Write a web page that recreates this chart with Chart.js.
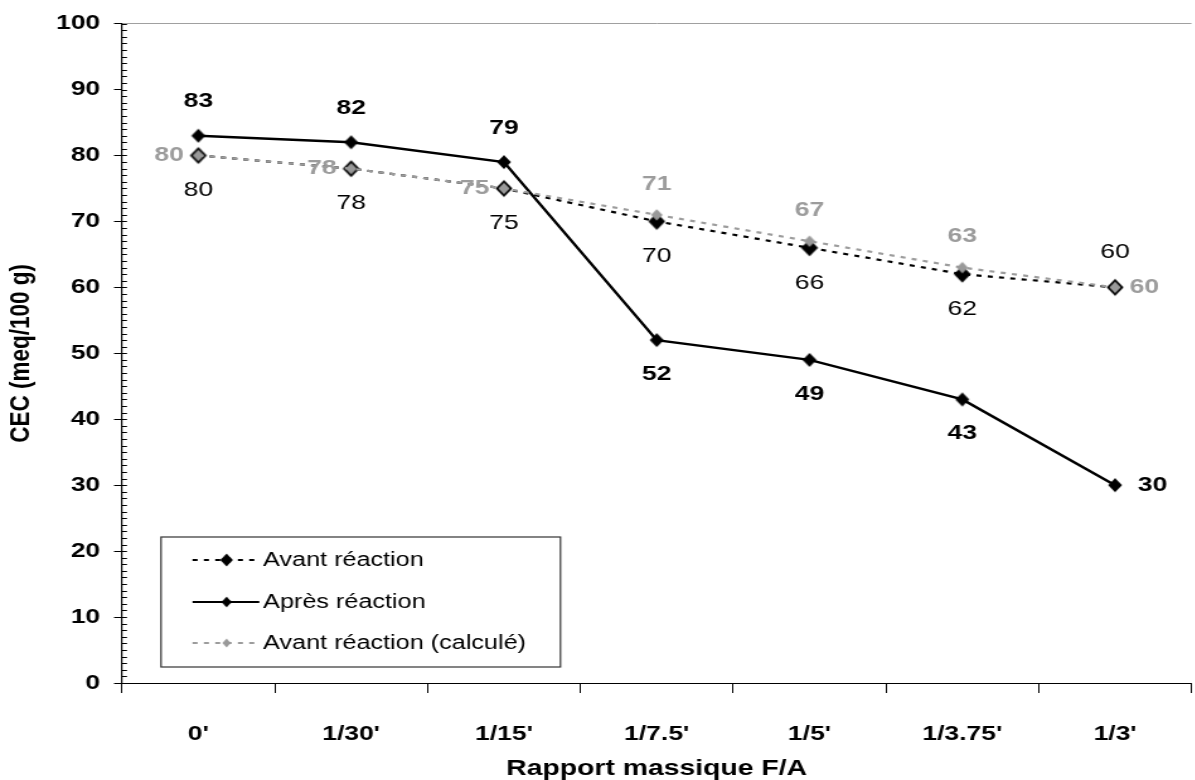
<!DOCTYPE html>
<html>
<head>
<meta charset="utf-8">
<script src="https://cdn.jsdelivr.net/npm/chart.js@4.4.0/dist/chart.umd.min.js"></script>
<style>
  html, body { margin: 0; padding: 0; background: #fff; overflow: hidden; }
  /* the reference is a horizontally stretched picture, so the chart is drawn narrow and stretched */
  #wrap { width: 952px; height: 780px; transform: scaleX(1.26); transform-origin: 0 0; }
</style>
</head>
<body>
<div id="wrap"><canvas id="myChart"></canvas></div>
<script>
const categories = ["0'", "1/30'", "1/15'", "1/7.5'", "1/5'", "1/3.75'", "1/3'"];
const avantReaction = [80, 78, 75, 70, 66, 62, 60];
const apresReaction = [83, 82, 79, 52, 49, 43, 30];
const avantCalcule = [80, 78, 75, 71, 67, 63, 60];
const seriesNames = ["Avant réaction", "Après réaction", "Avant réaction (calculé)"];

const SX = 1.26;
const FONT = "'Liberation Sans', Arial, Helvetica, sans-serif";
const GREY = "#9c9c9c";

// diamond marker, pre-squeezed so it looks square after the stretch
function makeDiamond(half, fill) {
  var hw = half / SX, hh = half;
  var c = document.createElement("canvas");
  c.width = 2 * Math.ceil(hw) + 2;
  c.height = 2 * Math.ceil(hh) + 2;
  var g = c.getContext("2d");
  var cx = c.width / 2, cy = c.height / 2;
  g.beginPath();
  g.moveTo(cx, cy - hh);
  g.lineTo(cx + hw, cy);
  g.lineTo(cx, cy + hh);
  g.lineTo(cx - hw, cy);
  g.closePath();
  g.fillStyle = fill;
  g.fill();
  return c;
}

const pointLabels = {
  id: "pointLabels",
  afterDatasetsDraw(chart) {
    const ctx = chart.ctx;
    chart.data.datasets.forEach(function (ds, i) {
      const meta = chart.getDatasetMeta(i);
      ctx.save();
      ctx.font = ds.labelFont;
      ctx.fillStyle = ds.labelColor;
      ctx.textBaseline = "middle";
      meta.data.forEach(function (pt, j) {
        const pos = ds.labelPos[j];
        let x = pt.x, y = pt.y;
        ctx.textAlign = "center";
        if (pos === "top") y -= ds.labelGapY;
        else if (pos === "bottom") y += ds.labelGapY;
        else if (pos === "left") { x -= ds.labelGapX; ctx.textAlign = "right"; }
        else { x += ds.labelGapX; ctx.textAlign = "left"; }
        ctx.fillText(String(ds.data[j]), x, y);
      });
      ctx.restore();
    });
  }
};

const minorTicks = {
  id: "minorTicks",
  afterDraw(chart) {
    const ctx = chart.ctx;
    const y = chart.scales.y;
    const left = chart.chartArea.left;
    ctx.save();
    ctx.strokeStyle = "#000";
    ctx.lineWidth = 1;
    ctx.beginPath();
    for (let v = y.min; v <= y.max; v++) {
      const py = Math.round(y.getPixelForValue(v)) + 0.5;
      ctx.moveTo(left, py);
      ctx.lineTo(left + 4, py);
    }
    ctx.stroke();
    ctx.restore();
  }
};

const legendBox = {
  id: "legendBox",
  afterDraw(chart) {
    const ctx = chart.ctx;
    const a = chart.chartArea;
    const bx = a.left + 31, by = 537, bw = 317, bh = 130;
    ctx.save();
    ctx.fillStyle = "#fff";
    ctx.fillRect(bx, by, bw, bh);
    ctx.strokeStyle = "#333";
    ctx.lineWidth = 1.2;
    ctx.strokeRect(bx, by, bw, bh);
    const rows = [560, 602, 643];
    chart.data.datasets.forEach(function (ds, i) {
      const yy = rows[i];
      ctx.beginPath();
      ctx.setLineDash(ds.borderDash || []);
      ctx.strokeStyle = ds.borderColor;
      ctx.lineWidth = 2;
      ctx.moveTo(bx + 25, yy);
      ctx.lineTo(bx + 78, yy);
      ctx.stroke();
      ctx.setLineDash([]);
      const img = ds.pointStyle, s = 0.75;
      ctx.drawImage(img, bx + 52 - img.width * s / 2, yy - img.height * s / 2, img.width * s, img.height * s);
      ctx.fillStyle = "#000";
      ctx.font = "20px " + FONT;
      ctx.textAlign = "left";
      ctx.textBaseline = "middle";
      ctx.fillText(ds.label, bx + 81, yy);
    });
    ctx.restore();
  }
};

function createChart() {
  var ctx = document.getElementById("myChart").getContext("2d");
  Chart.defaults.font.family = FONT;
  Chart.defaults.color = "#000";
  new Chart(ctx, {
    type: "line",
    data: {
      labels: categories,
      datasets: [
        {
          label: seriesNames[0],
          data: avantReaction,
          borderColor: "#000",
          borderWidth: 2.2,
          borderDash: [4, 5],
          pointStyle: makeDiamond(8.5, "#000"),
          order: 2,
          labelPos: ["bottom", "bottom", "bottom", "bottom", "bottom", "bottom", "top"],
          labelFont: "21px " + FONT,
          labelColor: "#000",
          labelGapY: 35,
          labelGapX: 12
        },
        {
          label: seriesNames[1],
          data: apresReaction,
          borderColor: "#000",
          borderWidth: 2.4,
          pointStyle: makeDiamond(7, "#000"),
          order: 1,
          labelPos: ["top", "top", "top", "bottom", "bottom", "bottom", "right"],
          labelFont: "bold 21px " + FONT,
          labelColor: "#000",
          labelGapY: 34,
          labelGapX: 18
        },
        {
          label: seriesNames[2],
          data: avantCalcule,
          borderColor: GREY,
          borderWidth: 2.2,
          borderDash: [4, 5],
          pointStyle: makeDiamond(5.7, "#999"),
          order: 0,
          labelPos: ["left", "left", "left", "top", "top", "top", "right"],
          labelFont: "bold 21px " + FONT,
          labelColor: GREY,
          labelGapY: 31,
          labelGapX: 11.5
        }
      ]
    },
    options: {
      responsive: true,
      maintainAspectRatio: false,
      animation: false,
      layout: { padding: { top: 22, right: 0, bottom: 0, left: 0 } },
      plugins: { legend: { display: false }, tooltip: { enabled: false } },
      elements: { line: { tension: 0, fill: false } },
      scales: {
        x: {
          offset: true,
          grid: { offset: true, drawOnChartArea: false, tickLength: 10, tickColor: "#000", tickWidth: 1 },
          border: { color: "#000", width: 1 },
          ticks: { font: { size: 21, weight: "bold" }, padding: 29, maxRotation: 0 },
          title: {
            display: true,
            text: "Rapport massique F/A",
            font: { size: 22.5, weight: "bold", lineHeight: 1 },
            padding: { top: 0, bottom: 0 }
          },
          afterFit(scale) { scale.height = 97; }
        },
        y: {
          min: 0,
          max: 100,
          ticks: { stepSize: 10, font: { size: 21, weight: "bold" }, padding: 11 },
          grid: {
            drawOnChartArea: true,
            color: function (c) { return c.tick && c.tick.value === 100 ? "#a0a0a0" : "rgba(0,0,0,0)"; },
            tickColor: "#000",
            tickLength: 6.3
          },
          border: { color: "#000", width: 1.2 },
          title: {
            display: true,
            text: "CEC (meq/100 g)",
            font: { size: 22.5, weight: "bold", lineHeight: 1 },
            padding: { top: 6, bottom: 0 }
          },
          afterFit(scale) { scale.width = 96.8; }
        }
      }
    },
    plugins: [minorTicks, pointLabels, legendBox]
  });
}

createChart();
</script>
</body>
</html>
